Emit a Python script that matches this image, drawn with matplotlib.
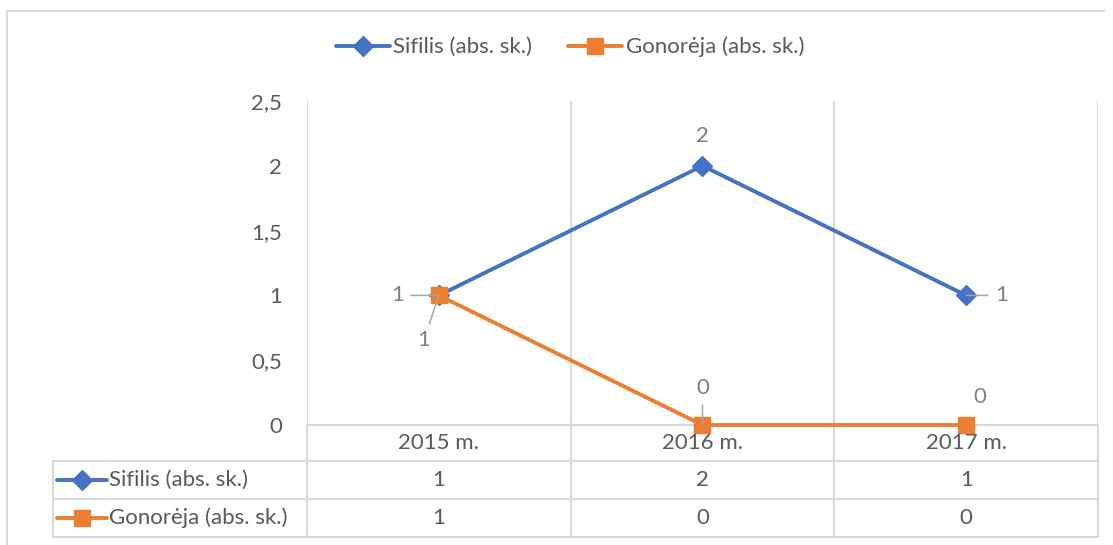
import matplotlib
matplotlib.use("Agg")
import matplotlib.pyplot as plt
from matplotlib.lines import Line2D
from matplotlib.transforms import blended_transform_factory

# ---- data ----
years = ["2015 m.", "2016 m.", "2017 m."]
series_names = ["Sifilis (abs. sk.)", "Gonorėja (abs. sk.)"]
sifilis = [1, 2, 1]
gonoreja = [1, 0, 0]
y_ticks = [0, 0.5, 1, 1.5, 2, 2.5]
y_tick_labels = ["0", "0,5", "1", "1,5", "2", "2,5"]

# ---- style ----
BLUE = "#4472C4"
ORANGE = "#ED7D31"
GRID = "#D9D9D9"
TXT = "#595959"
LBL = "#7F7F7F"
LEAD = "#A6A6A6"
FS = 16
LW = 2.8
plt.rcParams["font.family"] = ["Lato", "DejaVu Sans"]

W, H = 1113, 545
fig = plt.figure(figsize=(W / 100, H / 100), dpi=100)
fig.patch.set_facecolor("white")

# background axes in pixel coordinates (for frame / table)
bg = fig.add_axes([0, 0, 1, 1])
bg.set_xlim(0, W)
bg.set_ylim(H, 0)
bg.axis("off")

# plot area
L, R, T, B = 307, 1098, 101, 425
ax = fig.add_axes([L / W, 1 - B / H, (R - L) / W, (B - T) / H])
ax.set_facecolor("none")
ax.set_xlim(-0.5, len(years) - 0.5)
ax.set_ylim(0, 2.5)
for s in ["top", "right", "left"]:
    ax.spines[s].set_visible(False)
ax.spines["bottom"].set_color(GRID)
ax.spines["bottom"].set_linewidth(1.5)
ax.set_yticks(y_ticks)
ax.set_yticklabels(y_tick_labels, color=TXT, fontsize=FS)
ax.tick_params(axis="y", length=0, pad=18)
ax.set_xticks([i + 0.5 for i in range(-1, len(years))])
ax.set_xticklabels([])
ax.tick_params(axis="x", length=0)
ax.grid(axis="x", color=GRID, linewidth=1.5)
ax.set_axisbelow(True)

xs = list(range(len(years)))
l1, = ax.plot(xs, sifilis, color=BLUE, linewidth=LW, marker="D", markersize=10,
              clip_on=False, zorder=3, solid_capstyle="round")
l2, = ax.plot(xs, gonoreja, color=ORANGE, linewidth=LW, marker="s", markersize=12,
              clip_on=False, zorder=4, solid_capstyle="round")

# data labels (offsets in pixels, leader flag)
sif_offsets = [(-41, 0, True), (0, 30, False), (35, 0, True)]
gon_offsets = [(-15, -45, True), (0, 37, True), (14, 28, False)]
for vals, offs in ((sifilis, sif_offsets), (gonoreja, gon_offsets)):
    for x, v, (dx, dy, lead) in zip(xs, vals, offs):
        kw = {}
        if lead:
            kw["arrowprops"] = dict(arrowstyle="-", color=LEAD, lw=1.1,
                                    shrinkA=3, shrinkB=0)
        ax.annotate(str(v), (x, v), xytext=(dx, dy), textcoords="offset pixels",
                    ha="center", va="center", color=LBL, fontsize=FS,
                    zorder=6, annotation_clip=False, **kw)

# outer frame (cropped at right and bottom)
bg.plot([7, 1104], [11, 11], color=GRID, lw=1.5)
bg.plot([7, 7], [11, H], color=GRID, lw=1.5)

# data table
TL = 53
rows_y = [461, 499, 537]
for y in rows_y:
    bg.plot([TL, R], [y, y], color=GRID, lw=1.5)
bg.plot([TL, TL], [rows_y[0], rows_y[-1]], color=GRID, lw=1.5)
bt = blended_transform_factory(ax.transData, bg.transData)
for xb in [i + 0.5 for i in range(-1, len(years))]:
    bg.plot([xb, xb], [B, rows_y[-1]], color=GRID, lw=1.5, transform=bt)

# category labels
for x, lab in zip(xs, years):
    bg.text(x, (B + rows_y[0]) / 2, lab, transform=bt, ha="center", va="center",
            color=TXT, fontsize=FS)

# row labels with legend keys, and values
for (name, vals, line, ms), (y0, y1) in zip(
        ((series_names[0], sifilis, l1, 10), (series_names[1], gonoreja, l2, 12)),
        ((rows_y[0], rows_y[1]), (rows_y[1], rows_y[2]))):
    yc = (y0 + y1) / 2
    bg.add_line(Line2D([57, 107], [yc, yc], color=line.get_color(), lw=LW,
                       solid_capstyle="round"))
    bg.add_line(Line2D([82], [yc], color=line.get_color(), marker=line.get_marker(),
                       markersize=ms, linestyle="none"))
    bg.text(109, yc, name, ha="left", va="center", color=TXT, fontsize=FS)
    for x, v in zip(xs, vals):
        bg.text(x, yc, str(v), transform=bt, ha="center", va="center",
                color=TXT, fontsize=FS)

# legend at top
leg = fig.legend([l1, l2], series_names, loc="center", bbox_to_anchor=(570 / W, 1 - 47 / H),
                 ncol=2, frameon=False, fontsize=FS, handlelength=2.45,
                 handletextpad=0.15, columnspacing=1.6, labelcolor=TXT)

fig.savefig("out.png", dpi=100, facecolor="white")
